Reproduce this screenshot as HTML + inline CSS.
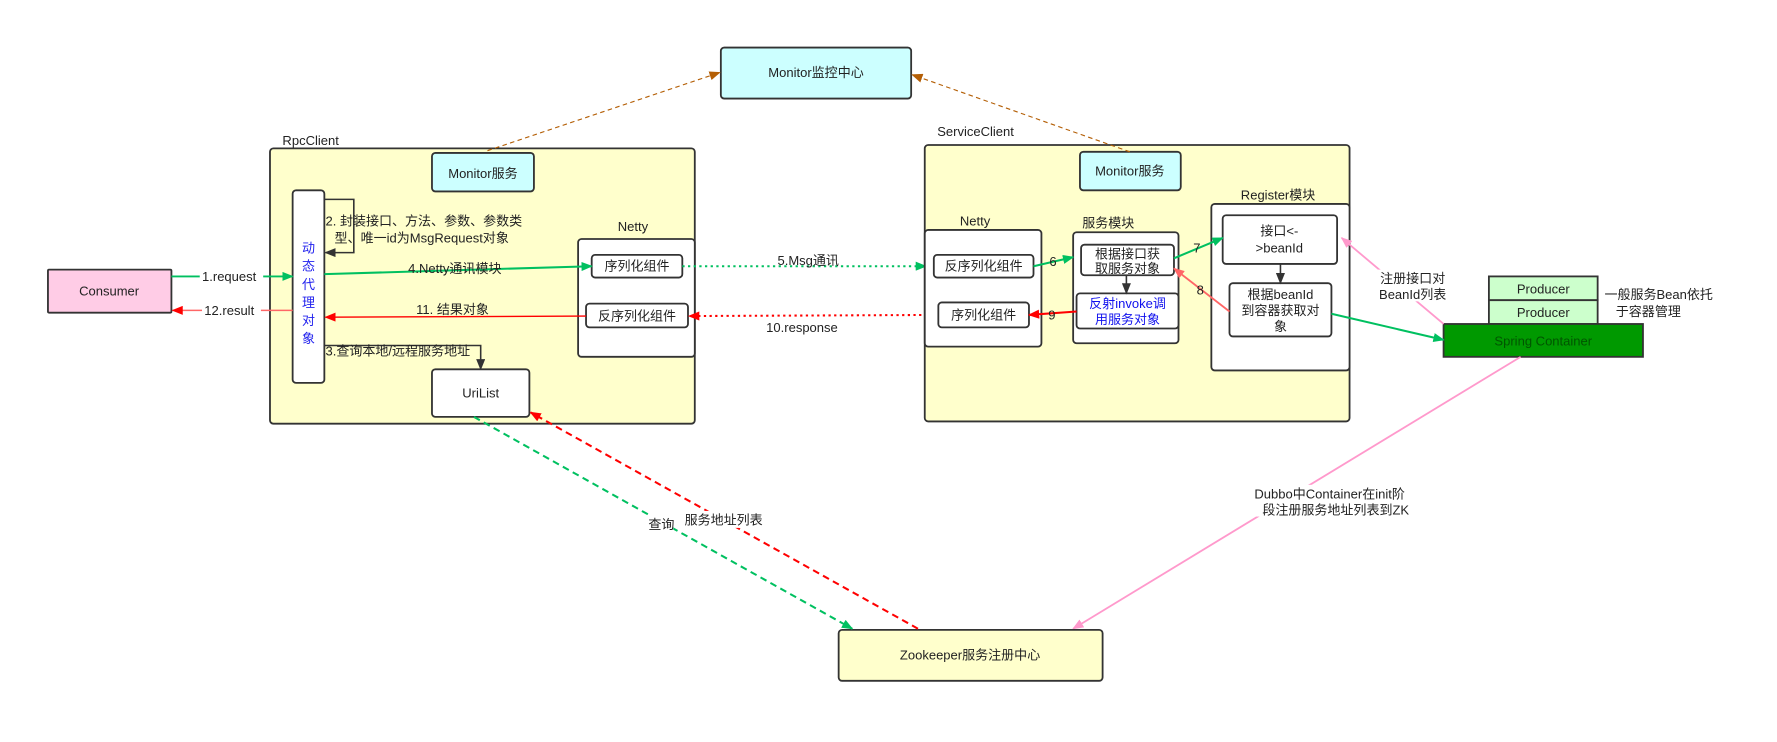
<!DOCTYPE html>
<html><head><meta charset="utf-8"><style>
html,body{margin:0;padding:0;background:#fff;}
svg{display:block;}
text{font-family:"Liberation Sans","Noto Sans CJK SC",sans-serif;font-size:11.5px;fill:#222;}
.c{text-anchor:middle;}
.box{stroke:#333;stroke-width:1.6;}
</style></head><body>
<svg width="1777" height="742" viewBox="0 0 1568 655" xmlns="http://www.w3.org/2000/svg">
<defs>
<marker id="g" markerWidth="10" markerHeight="8" refX="9" refY="4" orient="auto" markerUnits="userSpaceOnUse"><path d="M0,0L10,4L0,8z" fill="#00c060"/></marker>
<marker id="r" markerWidth="10" markerHeight="8" refX="9" refY="4" orient="auto" markerUnits="userSpaceOnUse"><path d="M0,0L10,4L0,8z" fill="#ff0000"/></marker>
<marker id="s" markerWidth="10" markerHeight="8" refX="9" refY="4" orient="auto" markerUnits="userSpaceOnUse"><path d="M0,0L10,4L0,8z" fill="#ff6666"/></marker>
<marker id="p" markerWidth="10" markerHeight="8" refX="9" refY="4" orient="auto" markerUnits="userSpaceOnUse"><path d="M0,0L10,4L0,8z" fill="#ff99cc"/></marker>
<marker id="o" markerWidth="10" markerHeight="8" refX="9" refY="4" orient="auto" markerUnits="userSpaceOnUse"><path d="M0,0L10,4L0,8z" fill="#b45f06"/></marker>
<marker id="k" markerWidth="10" markerHeight="8" refX="9" refY="4" orient="auto" markerUnits="userSpaceOnUse"><path d="M0,0L10,4L0,8z" fill="#333"/></marker>
</defs>

<!-- Monitor center -->
<rect class="box" x="636" y="42" width="168" height="45" rx="3" fill="#ccffff"/>
<text class="c" x="720" y="68">Monitor监控中心</text>

<!-- RpcClient -->
<text x="249" y="128">RpcClient</text>
<rect class="box" x="238" y="131" width="375" height="243" rx="3" fill="#ffffcc"/>
<rect class="box" x="381" y="135" width="90" height="34" rx="3" fill="#ccffff"/>
<text class="c" x="426" y="157">Monitor服务</text>
<rect class="box" x="258" y="168" width="28" height="170" rx="3" fill="#fff"/>
<text class="c" x="272" y="223" style="fill:#2222ee">动</text>
<text class="c" x="272" y="239" style="fill:#2222ee">态</text>
<text class="c" x="272" y="255" style="fill:#2222ee">代</text>
<text class="c" x="272" y="271" style="fill:#2222ee">理</text>
<text class="c" x="272" y="287" style="fill:#2222ee">对</text>
<text class="c" x="272" y="303" style="fill:#2222ee">象</text>
<polyline points="286,176 312,176 312,223 287,223" fill="none" stroke="#333" stroke-width="1.4" marker-end="url(#k)"/>
<text x="287" y="199">2. 封装接口、方法、参数、参数类</text>
<text x="295" y="214">型、唯一id为MsgRequest对象</text>

<text x="545" y="204">Netty</text>
<rect class="box" x="510" y="211" width="103" height="104" rx="3" fill="#fff"/>
<rect class="box" x="522" y="225" width="80" height="20" rx="3" fill="#fff"/>
<text class="c" x="562" y="239">序列化组件</text>
<rect class="box" x="517" y="268" width="90" height="21" rx="3" fill="#fff"/>
<text class="c" x="562" y="283">反序列化组件</text>

<rect class="box" x="42" y="238" width="109" height="38" rx="1" fill="#ffcce6"/>
<text class="c" x="96" y="261">Consumer</text>

<line x1="151" y1="244" x2="258" y2="244" stroke="#00c060" stroke-width="1.6" marker-end="url(#g)"/>
<rect x="176" y="237" width="56" height="14" fill="#fff"/>
<text x="178" y="248">1.request</text>
<line x1="258" y1="274" x2="152" y2="274" stroke="#ff6666" stroke-width="1.4" marker-end="url(#r)"/>
<rect x="178" y="267" width="52" height="14" fill="#fff"/>
<text x="180" y="278">12.result</text>

<line x1="286" y1="242" x2="522" y2="235" stroke="#00c060" stroke-width="1.8" marker-end="url(#g)"/>
<text x="360" y="241">4.Netty通讯模块</text>
<line x1="517" y1="279" x2="287" y2="280" stroke="#ff0000" stroke-width="1.2" marker-end="url(#r)"/>
<text x="367" y="277">11. 结果对象</text>

<polyline points="286,305 424,305 424,326" fill="none" stroke="#333" stroke-width="1.4" marker-end="url(#k)"/>
<text x="287" y="314">3.查询本地/远程服务地址</text>
<rect class="box" x="381" y="326" width="86" height="42" rx="3" fill="#fff"/>
<text class="c" x="424" y="351">UriList</text>

<line x1="602" y1="235" x2="817" y2="235" stroke="#00c060" stroke-width="1.8" stroke-dasharray="2,3" marker-end="url(#g)"/>
<text x="686" y="234">5.Msg通讯</text>
<line x1="828" y1="278" x2="608" y2="279" stroke="#ff0000" stroke-width="1.8" stroke-dasharray="2,3" marker-end="url(#r)"/>
<text x="676" y="293">10.response</text>

<!-- ServiceClient -->
<text x="827" y="120">ServiceClient</text>
<rect class="box" x="816" y="128" width="375" height="244" rx="3" fill="#ffffcc"/>
<rect class="box" x="953" y="134" width="89" height="34" rx="3" fill="#ccffff"/>
<text class="c" x="997" y="155">Monitor服务</text>

<text x="847" y="199">Netty</text>
<rect class="box" x="816" y="203" width="103" height="103" rx="3" fill="#fff"/>
<rect class="box" x="824" y="225" width="88" height="20" rx="3" fill="#fff"/>
<text class="c" x="868" y="239">反序列化组件</text>
<rect class="box" x="828" y="267" width="80" height="22" rx="3" fill="#fff"/>
<text class="c" x="868" y="282">序列化组件</text>

<text x="955" y="201">服务模块</text>
<rect class="box" x="947" y="205" width="93" height="98" rx="3" fill="#fff"/>
<rect class="box" x="954" y="216" width="82" height="27" rx="3" fill="#fff"/>
<text class="c" x="995" y="228">根据接口获</text>
<text class="c" x="995" y="241">取服务对象</text>
<rect class="box" x="950" y="259" width="90" height="31" rx="3" fill="#fff"/>
<text class="c" x="995" y="272" style="fill:#1111ee">反射invoke调</text>
<text class="c" x="995" y="286" style="fill:#1111ee">用服务对象</text>
<line x1="994" y1="243" x2="994" y2="259" stroke="#333" stroke-width="1.4" marker-end="url(#k)"/>

<line x1="912" y1="235" x2="947" y2="227" stroke="#00c060" stroke-width="1.8" marker-end="url(#g)"/>
<text x="926" y="235">6</text>
<line x1="950" y1="275" x2="908" y2="278" stroke="#ff0000" stroke-width="1.8" marker-end="url(#r)"/>
<text x="925" y="282">9</text>

<text x="1095" y="176">Register模块</text>
<rect class="box" x="1069" y="180" width="122" height="147" rx="3" fill="#fff"/>
<rect class="box" x="1079" y="190" width="101" height="43" rx="3" fill="#fff"/>
<text class="c" x="1129" y="208">接口&lt;-</text>
<text class="c" x="1129" y="223">&gt;beanId</text>
<rect class="box" x="1085" y="250" width="90" height="47" rx="3" fill="#fff"/>
<text class="c" x="1130" y="264">根据beanId</text>
<text class="c" x="1130" y="278">到容器获取对</text>
<text class="c" x="1130" y="292">象</text>
<line x1="1130" y1="233" x2="1130" y2="250" stroke="#333" stroke-width="1.4" marker-end="url(#k)"/>

<line x1="1036" y1="228" x2="1079" y2="210" stroke="#00c060" stroke-width="1.8" marker-end="url(#g)"/>
<text x="1053" y="223">7</text>
<line x1="1085" y1="275" x2="1036" y2="237" stroke="#ff6666" stroke-width="1.6" marker-end="url(#s)"/>
<text x="1056" y="260">8</text>

<!-- Spring -->
<rect class="box" x="1314" y="244" width="96" height="21" fill="#ccffcc"/>
<text class="c" x="1362" y="259">Producer</text>
<rect class="box" x="1314" y="265" width="96" height="21" fill="#ccffcc"/>
<text class="c" x="1362" y="280">Producer</text>
<rect class="box" x="1274" y="286" width="176" height="29" fill="#009900"/>
<text class="c" x="1362" y="305" style="fill:#005500">Spring Container</text>
<text x="1416" y="264">一般服务Bean依托</text>
<text x="1426" y="279">于容器管理</text>

<line x1="1175" y1="277" x2="1274" y2="300" stroke="#00c060" stroke-width="1.8" marker-end="url(#g)"/>
<line x1="1274" y1="286" x2="1184" y2="210" stroke="#ff99cc" stroke-width="1.6" marker-end="url(#p)"/>
<rect x="1216" y="238" width="64" height="28" fill="#fff"/>
<text x="1218" y="250">注册接口对</text>
<text x="1217" y="264">BeanId列表</text>

<line x1="1342" y1="315" x2="947" y2="555" stroke="#ff99cc" stroke-width="1.6" marker-end="url(#p)"/>
<rect x="1105" y="428" width="148" height="28" fill="#fff"/>
<text x="1107" y="440">Dubbo中Container在init阶</text>
<text x="1114" y="454">段注册服务地址列表到ZK</text>

<rect class="box" x="740" y="556" width="233" height="45" rx="3" fill="#ffffcc"/>
<text class="c" x="856" y="582">Zookeeper服务注册中心</text>

<line x1="418" y1="368" x2="752" y2="555" stroke="#00c060" stroke-width="1.8" stroke-dasharray="6,4" marker-end="url(#g)"/>
<line x1="810" y1="555" x2="468" y2="364" stroke="#ff0000" stroke-width="1.8" stroke-dasharray="6,4" marker-end="url(#r)"/>
<rect x="570" y="455" width="24" height="15" fill="#fff"/>
<text x="572" y="467">查询</text>
<rect x="602" y="451" width="72" height="15" fill="#fff"/>
<text x="604" y="463">服务地址列表</text>

<line x1="430" y1="133" x2="635" y2="64" stroke="#b45f06" stroke-width="1" stroke-dasharray="4,3" marker-end="url(#o)"/>
<line x1="997" y1="134" x2="805" y2="66" stroke="#b45f06" stroke-width="1" stroke-dasharray="4,3" marker-end="url(#o)"/>
</svg>
</body></html>
